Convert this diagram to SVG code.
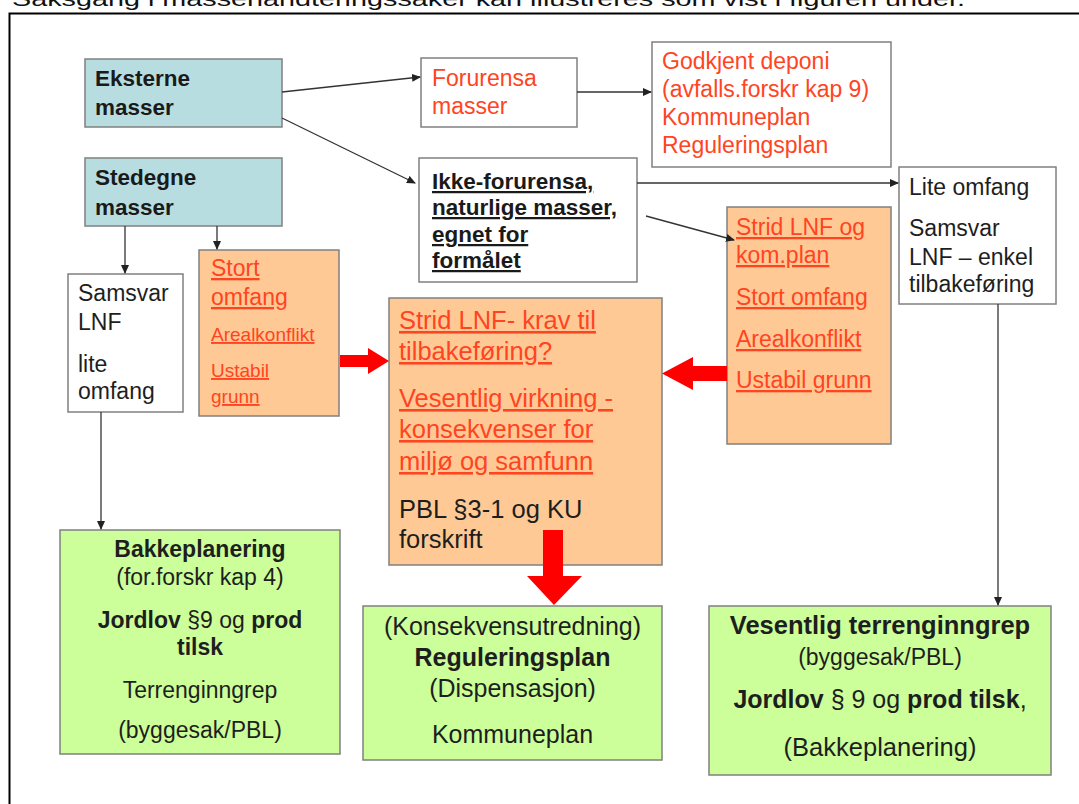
<svg xmlns="http://www.w3.org/2000/svg" width="1079" height="804" viewBox="0 0 1079 804">
<style>
text{font-family:"Liberation Sans",Arial,sans-serif;}
.box{stroke:#808080;stroke-width:1.5;}
.teal{fill:#B7DDE1;}
.white{fill:#FFFFFF;}
.peach{fill:#FFC995;}
.green{fill:#CCFF99;}
.bt{font-weight:bold;fill:#1A1A1A;}
.blk{fill:#1E1E1E;}
.red{fill:#FF4422;}
.u{text-decoration:underline;}
.conn{stroke:#333333;stroke-width:1.3;fill:none;marker-end:url(#ah);}
.big{fill:#FF0000;}
.b{font-weight:bold;}
</style>
<defs>
<marker id="ah" markerWidth="9" markerHeight="8" refX="8" refY="4" orient="auto" markerUnits="userSpaceOnUse">
<path d="M0,0 L9,4 L0,8 Z" fill="#222222"/>
</marker>
</defs>
<rect width="1079" height="804" fill="#FFFFFF"/>
<text x="12" y="6" font-size="21" fill="#111" textLength="953" lengthAdjust="spacingAndGlyphs">Saksgang i massehåndteringssaker kan illustreres som vist i figuren under.</text>
<rect x="9.5" y="13.5" width="1100" height="820" fill="none" stroke="#000" stroke-width="2"/>

<g id="eksterne">
<rect class="box teal" x="85" y="59" width="197" height="68"/>
<text class="bt" x="95" y="86" font-size="22.5">Eksterne</text>
<text class="bt" x="95" y="115" font-size="22.5">masser</text>
</g>

<g id="stedegne">
<rect class="box teal" x="85" y="158" width="197" height="68"/>
<text class="bt" x="95" y="185" font-size="22.5">Stedegne</text>
<text class="bt" x="95" y="215" font-size="22.5">masser</text>
</g>

<g id="forurensa">
<rect class="box white" x="421" y="58" width="156" height="69"/>
<text class="red" x="432" y="86" font-size="23">Forurensa</text>
<text class="red" x="432" y="114" font-size="23">masser</text>
</g>

<g id="godkjent">
<rect class="box white" x="652" y="42" width="239" height="125"/>
<text class="red" x="662" y="69" font-size="23">Godkjent deponi</text>
<text class="red" x="662" y="97" font-size="23">(avfalls.forskr kap 9)</text>
<text class="red" x="662" y="125" font-size="23">Kommuneplan</text>
<text class="red" x="662" y="153" font-size="23">Reguleringsplan</text>
</g>

<g id="ikke">
<rect class="box white" x="419" y="158" width="218" height="124"/>
<text class="bt u" x="432" y="189" font-size="22.5">Ikke-forurensa,</text>
<text class="bt u" x="432" y="215" font-size="22.5">naturlige masser,</text>
<text class="bt u" x="432" y="242" font-size="22.5">egnet for</text>
<text class="bt u" x="432" y="268" font-size="22.5">formålet</text>
</g>

<g id="lite">
<rect class="box white" x="899" y="167" width="157" height="137"/>
<text class="blk" x="909" y="195" font-size="23">Lite omfang</text>
<text class="blk" x="909" y="236" font-size="23">Samsvar</text>
<text class="blk" x="909" y="265" font-size="23">LNF – enkel</text>
<text class="blk" x="909" y="292" font-size="23">tilbakeføring</text>
</g>

<g id="strid-right">
<rect class="box peach" x="727" y="207" width="164" height="237"/>
<text class="red u" x="736" y="235" font-size="23">Strid LNF og</text>
<text class="red u" x="736" y="263" font-size="23">kom.plan</text>
<text class="red u" x="736" y="305" font-size="23">Stort omfang</text>
<text class="red u" x="736" y="347" font-size="23">Arealkonflikt</text>
<text class="red u" x="736" y="388" font-size="23">Ustabil grunn</text>
</g>

<g id="samsvar-lnf">
<rect class="box white" x="68" y="274" width="115" height="138"/>
<text class="blk" x="78" y="301" font-size="23">Samsvar</text>
<text class="blk" x="78" y="330" font-size="23">LNF</text>
<text class="blk" x="78" y="372" font-size="23">lite</text>
<text class="blk" x="78" y="399" font-size="23">omfang</text>
</g>

<g id="stort-left">
<rect class="box peach" x="199" y="250" width="140" height="166"/>
<text class="red u" x="211" y="276" font-size="23">Stort</text>
<text class="red u" x="211" y="305" font-size="23">omfang</text>
<text class="red u" x="211" y="341" font-size="19">Arealkonflikt</text>
<text class="red u" x="211" y="377" font-size="19">Ustabil</text>
<text class="red u" x="211" y="403" font-size="19">grunn</text>
</g>

<g id="strid-center">
<rect class="box peach" x="389" y="298" width="273" height="267"/>
<text class="red u" x="399" y="329" font-size="25.5">Strid LNF- krav til</text>
<text class="red u" x="399" y="360" font-size="25.5">tilbakeføring?</text>
<text class="red u" x="399" y="407" font-size="25.5">Vesentlig virkning -</text>
<text class="red u" x="399" y="438" font-size="25.5">konsekvenser for</text>
<text class="red u" x="399" y="470" font-size="25.5">miljø og samfunn</text>
<text class="blk" x="399" y="518" font-size="25.5">PBL §3-1 og KU</text>
<text class="blk" x="399" y="548" font-size="25.5">forskrift</text>
</g>

<g id="bakkeplanering">
<rect class="box green" x="60" y="530" width="280" height="224"/>
<text class="blk" x="200" y="557" font-size="23" text-anchor="middle"><tspan class="b">Bakkeplanering</tspan></text>
<text class="blk" x="200" y="585" font-size="23" text-anchor="middle">(for.forskr kap 4)</text>
<text class="blk" x="200" y="628" font-size="23" text-anchor="middle"><tspan class="b">Jordlov</tspan> §9 og <tspan class="b">prod</tspan></text>
<text class="blk" x="200" y="655" font-size="23" text-anchor="middle"><tspan class="b">tilsk</tspan></text>
<text class="blk" x="200" y="698" font-size="23" text-anchor="middle">Terrenginngrep</text>
<text class="blk" x="200" y="738" font-size="23" text-anchor="middle">(byggesak/PBL)</text>
</g>

<g id="reguleringsplan">
<rect class="box green" x="363" y="606" width="299" height="154"/>
<text class="blk" x="512.5" y="635" font-size="25" text-anchor="middle">(Konsekvensutredning)</text>
<text class="blk" x="512.5" y="666" font-size="25" text-anchor="middle"><tspan class="b">Reguleringsplan</tspan></text>
<text class="blk" x="512.5" y="697" font-size="25" text-anchor="middle">(Dispensasjon)</text>
<text class="blk" x="512.5" y="743" font-size="25" text-anchor="middle">Kommuneplan</text>
</g>

<g id="vesentlig">
<rect class="box green" x="709" y="606" width="342" height="169"/>
<text class="blk" x="880" y="634" font-size="25.5" text-anchor="middle"><tspan class="b">Vesentlig terrenginngrep</tspan></text>
<text class="blk" x="880" y="665" font-size="23" text-anchor="middle">(byggesak/PBL)</text>
<text class="blk" x="880" y="708" font-size="25" text-anchor="middle"><tspan class="b">Jordlov</tspan> § 9 og <tspan class="b">prod tilsk</tspan>,</text>
<text class="blk" x="880" y="756" font-size="25.5" text-anchor="middle">(Bakkeplanering)</text>
</g>

<g id="connectors">
<path class="conn" d="M282,92 L420,77"/>
<path class="conn" d="M282,118 L415,183"/>
<path class="conn" d="M577,92 L651,92"/>
<path class="conn" d="M637,183 L898,183"/>
<path class="conn" d="M646,216 L734,240"/>
<path class="conn" d="M125,226 L125,273"/>
<path class="conn" d="M217,226 L217,249"/>
<path class="conn" d="M101,412 L101,529"/>
<path class="conn" d="M998,304 L998,605"/>
<polygon class="big" points="340,355 368,355 368,348 389,361 368,374 368,367 340,367"/>
<polygon class="big" points="727,366 693,366 693,357 662,373.5 693,390 693,381 727,381"/>
<polygon class="big" points="543,530 563,530 563,576 582,576 554,605 527,576 543,576"/>
</g>
</svg>
